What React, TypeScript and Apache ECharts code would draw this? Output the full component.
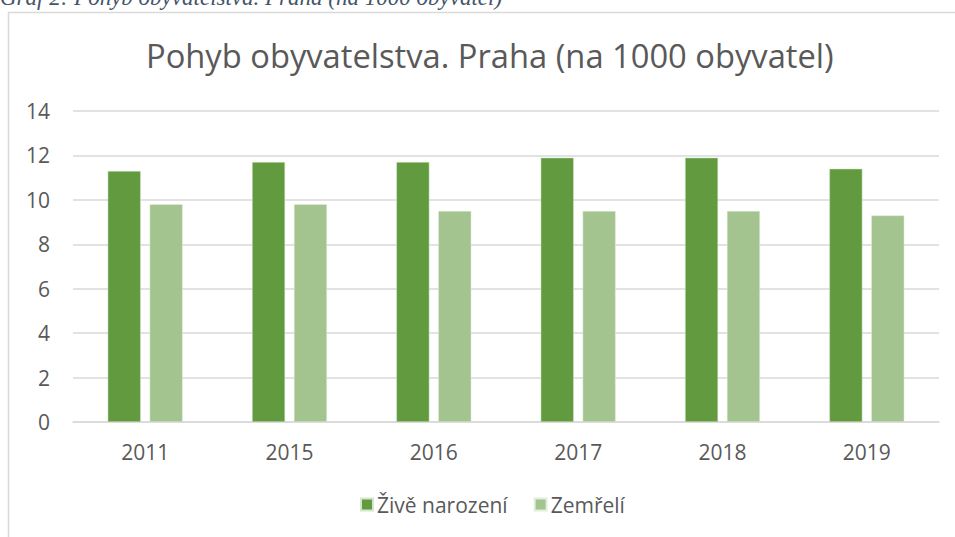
import React, { useEffect, useRef } from "react";
import * as echarts from "echarts";

const categories = ["2011", "2015", "2016", "2017", "2018", "2019"];
const births = [11.3, 11.7, 11.7, 11.9, 11.9, 11.4];
const deaths = [9.8, 9.8, 9.5, 9.5, 9.5, 9.3];
const seriesNames = ["Živě narození", "Zemřelí"];
const chartTitle = "Pohyb obyvatelstva. Praha (na 1000 obyvatel)";
const captionText = "Graf 2: Pohyb obyvatelstva. Praha (na 1000 obyvatel)";

const FONT = "'Open Sans', 'Noto Sans', sans-serif";

export default function App() {
  const ref = useRef<HTMLDivElement>(null);
  useEffect(() => {
    if (!ref.current) return;
    const chart = echarts.init(ref.current, undefined, { renderer: "svg" });
    chart.setOption({
      animation: false,
      backgroundColor: "#ffffff",
      title: {
        text: chartTitle,
        left: 141,
        top: 34,
        textStyle: { fontFamily: FONT, fontSize: 32.7, fontWeight: "normal", color: "#595959" },
      },
      graphic: [
        {
          type: "rect",
          shape: { x: 8.5, y: 12.5, width: 960, height: 540 },
          style: { fill: "none", stroke: "#d9d9d9", lineWidth: 1.5 },
          silent: true,
        },
        {
          type: "text",
          x: 0,
          y: 9,
          style: {
            text: captionText,
            fontFamily: "'Liberation Serif', 'DejaVu Serif', serif",
            fontStyle: "italic",
            fontSize: 23,
            lineHeight: 23,
            fill: "#44546a",
            verticalAlign: "bottom",
          },
          silent: true,
        },
      ],
      legend: {
        bottom: 17,
        left: 355,
        itemWidth: 12,
        itemHeight: 12,
        itemGap: 26,
        icon: "rect",
        textStyle: { fontFamily: FONT, fontSize: 21, color: "#595959", padding: [0, 0, 0, -1] },
        data: seriesNames,
      },
      grid: { left: 73, right: 16, top: 111, bottom: 115 },
      xAxis: {
        type: "category",
        data: categories,
        axisLine: { show: true, lineStyle: { color: "#d9d9d9", width: 1.5 } },
        axisTick: { show: false },
        axisLabel: { fontFamily: FONT, fontSize: 21, color: "#595959", margin: 19 },
      },
      yAxis: {
        type: "value",
        min: 0,
        max: 14,
        interval: 2,
        axisLine: { show: false },
        axisTick: { show: false },
        splitLine: { lineStyle: { color: "#d9d9d9", width: 1.5 } },
        axisLabel: { fontFamily: FONT, fontSize: 21, color: "#595959", margin: 23 },
      },
      series: [
        {
          name: seriesNames[0],
          type: "bar",
          data: births,
          barWidth: 33,
          barGap: "27%",
          itemStyle: { color: "#629a3f", borderColor: "#d6e6cc", borderWidth: 0.5 },
        },
        {
          name: seriesNames[1],
          type: "bar",
          data: deaths,
          barWidth: 33,
          barGap: "27%",
          itemStyle: { color: "#a3c48f", borderColor: "#e3eedc", borderWidth: 0.5 },
        },
      ],
    });
    return () => chart.dispose();
  }, []);
  return (
    <div
      ref={ref}
      style={{ position: "fixed", left: 0, top: 0, width: 955, height: 537 }}
    />
  );
}
